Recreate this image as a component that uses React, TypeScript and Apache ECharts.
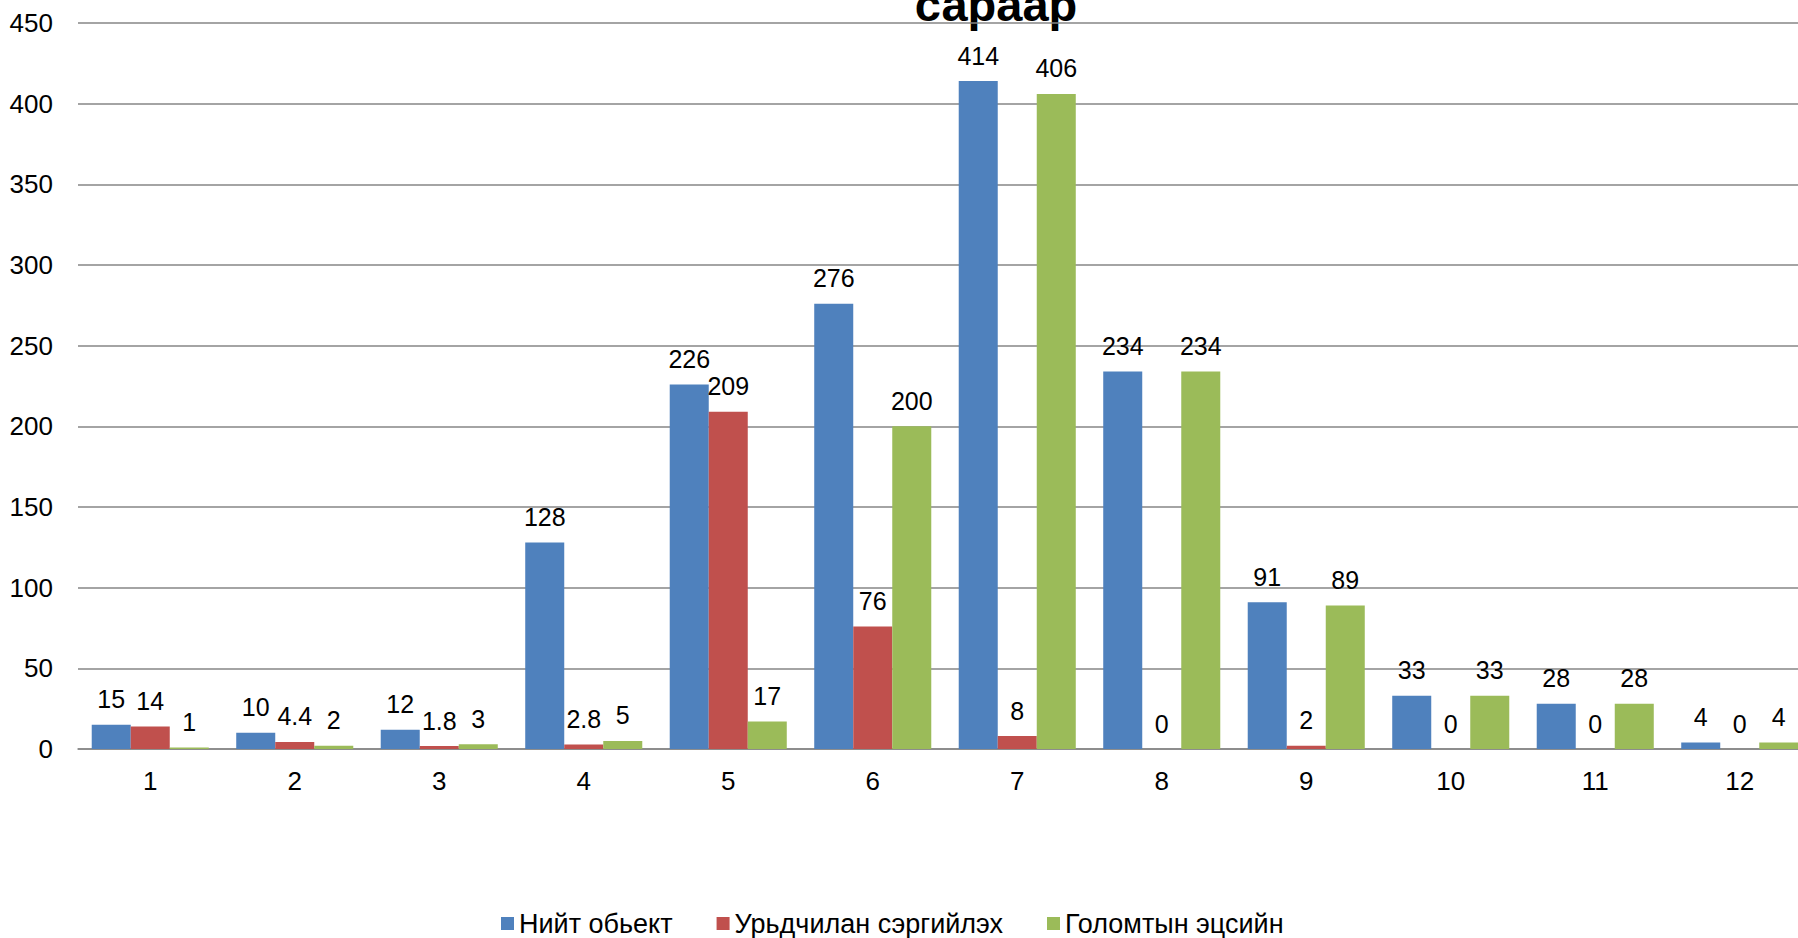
import React, { useEffect, useRef } from "react";
import * as echarts from "echarts";

const categories = ["1", "2", "3", "4", "5", "6", "7", "8", "9", "10", "11", "12"];
const seriesNames = ["Нийт обьект", "Урьдчилан сэргийлэх", "Голомтын эцсийн"];
const totalObjects = [15, 10, 12, 128, 226, 276, 414, 234, 91, 33, 28, 4];
const preventive = [14, 4.4, 1.8, 2.8, 209, 76, 8, 0, 2, 0, 0, 0];
const finalFocus = [1, 2, 3, 5, 17, 200, 406, 234, 89, 33, 28, 4];
const colors = ["#4F81BD", "#C0504D", "#9BBB59"];
const titleText = "сараар";

const FONT = "'Liberation Sans', Arial, sans-serif";

export default function App() {
  const ref = useRef<HTMLDivElement>(null);
  useEffect(() => {
    if (!ref.current) return;
    const chart = echarts.init(ref.current, null, { renderer: "svg" });
    const data = [totalObjects, preventive, finalFocus];
    chart.setOption({
      animation: false,
      backgroundColor: "#ffffff",
      textStyle: { fontFamily: FONT },
      graphic: [
        {
          type: "text",
          x: 996,
          y: 4,
          style: {
            text: titleText,
            font: `bold 47px ${FONT}`,
            fill: "#000000",
            align: "center",
            verticalAlign: "middle",
          },
        },
      ],
      legend: {
        data: seriesNames,
        top: 905,
        left: 496,
        itemWidth: 13,
        itemHeight: 13,
        itemGap: 44,
        icon: "rect",
        textStyle: { fontSize: 27, color: "#000000", fontFamily: FONT },
      },
      grid: { left: 78, top: 23, bottom: 189, right: 0, containLabel: false },
      xAxis: {
        type: "category",
        data: categories,
        axisTick: { show: false },
        axisLine: { lineStyle: { color: "#868686", width: 1.5 } },
        axisLabel: { fontSize: 26, color: "#000000", margin: 19, fontFamily: FONT },
      },
      yAxis: {
        type: "value",
        min: 0,
        max: 450,
        interval: 50,
        axisLine: { show: false },
        axisTick: { show: false },
        splitLine: { lineStyle: { color: "#868686", width: 1.5 } },
        axisLabel: { fontSize: 26, color: "#000000", margin: 25, fontFamily: FONT },
      },
      series: seriesNames.map((name, i) => ({
        name,
        type: "bar",
        data: data[i],
        barGap: "0%",
        barCategoryGap: "19%",
        itemStyle: { color: colors[i] },
        label: {
          show: true,
          position: "top",
          distance: 13,
          fontSize: 25,
          color: "#000000",
          fontFamily: FONT,
        },
      })),
    });
    return () => chart.dispose();
  }, []);
  return (
    <div
      style={{
        position: "fixed",
        left: 0,
        top: 0,
        width: 1798,
        height: 938,
        overflow: "hidden",
        background: "#ffffff",
      }}
    >
      <div ref={ref} style={{ width: 1812, height: 938 }} />
    </div>
  );
}
